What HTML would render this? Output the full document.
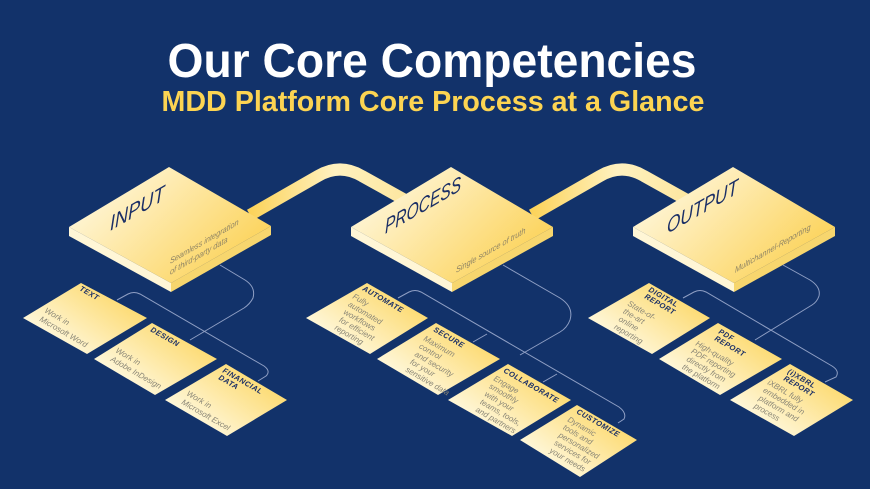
<!DOCTYPE html>
<html><head><meta charset="utf-8"><style>
html,body{margin:0;padding:0;background:#12326a;}
svg{display:block;}
.big{font-family:"Liberation Sans",sans-serif;font-size:21px;fill:#1b2f66;font-style:italic;}
.sub{font-family:"Liberation Sans",sans-serif;font-size:8.5px;fill:#8f8464;font-style:italic;}
.tt{font-family:"Liberation Sans",sans-serif;font-size:7.5px;font-weight:bold;font-style:italic;fill:#1b2f66;letter-spacing:0.5px;}
.bd{font-family:"Liberation Sans",sans-serif;font-size:8px;font-style:italic;fill:#8a8676;}
.cn{fill:none;stroke:#8f9fc4;stroke-width:1;}
</style></head><body>
<svg width="870" height="489" viewBox="0 0 870 489" xmlns="http://www.w3.org/2000/svg">
<defs>
<linearGradient id="gb" x1="0" y1="0" x2="1" y2="0.6">
<stop offset="0" stop-color="#fffdf2"/><stop offset="1" stop-color="#fcd35a"/></linearGradient>
<linearGradient id="gs" x1="0" y1="1" x2="1" y2="0.2">
<stop offset="0.1" stop-color="#fffdf0"/><stop offset="1" stop-color="#fcd55e"/></linearGradient>
<linearGradient id="gr" x1="0" y1="0" x2="1" y2="0">
<stop offset="0" stop-color="#fcd35a"/><stop offset="0.55" stop-color="#fff1c0"/><stop offset="1" stop-color="#fde7a0"/></linearGradient>
</defs>
<rect width="870" height="489" fill="#12326a"/>
<text x="432" y="77" text-anchor="middle" font-family="Liberation Sans,sans-serif" font-weight="bold" font-size="48" fill="#fff" textLength="529" lengthAdjust="spacingAndGlyphs">Our Core Competencies</text>
<text x="433" y="111" text-anchor="middle" font-family="Liberation Sans,sans-serif" font-weight="bold" font-size="29" fill="#fcd452" textLength="543" lengthAdjust="spacingAndGlyphs">MDD Platform Core Process at a Glance</text>

<path d="M250,215 L318,176 Q340,163 362,176 L405,200" fill="none" stroke="url(#gr)" stroke-width="12"/>
<path d="M532,215 L600,176 Q622,163 644,176 L687,200" fill="none" stroke="url(#gr)" stroke-width="12"/>

<path class="cn" d="M220,265 L245,280 Q256,287 253,298 Q250,304 244,308 L190,340"/>
<path class="cn" d="M117,300 L128,294 Q134,291 140,294 L264,366 Q271,371 266,376 L258,381"/>
<path class="cn" d="M503,265 L560,298 Q574,307 570,320 Q567,328 560,332 L520,355"/>
<path class="cn" d="M398,298 L409,292 Q415,289 421,292 L619,407 Q627,413 624,419 L618,423"/>
<path class="cn" d="M473,342 L487,334"/><path class="cn" d="M543,382 L557,374"/>
<path class="cn" d="M783,265 L810,280 Q821,287 819,296 Q817,302 812,305 L755,340"/>
<path class="cn" d="M683,298 L694,292 Q700,289 706,292 L832,366 Q840,371 836,377 L825,382"/>

<polygon points="69,227 171,283 171,292 69,236" fill="#fff6d6"/>
<polygon points="171,283 271,226 271,235 171,292" fill="#f7d66e"/>
<polygon points="169,167 271,226 171,283 69,227" fill="url(#gb)"/>
<polygon points="351,227 452,283 452,292 351,236" fill="#fff6d6"/>
<polygon points="452,283 553,227 553,236 452,292" fill="#f7d66e"/>
<polygon points="451,167 553,227 452,283 351,227" fill="url(#gb)"/>
<polygon points="633,227 734,283 734,292 633,236" fill="#fff6d6"/>
<polygon points="734,283 835,227 835,236 734,292" fill="#f7d66e"/>
<polygon points="733,167 835,227 734,283 633,227" fill="url(#gb)"/>

<text class="big" transform="matrix(0.866,-0.5,0,1,110,231)" textLength="63" lengthAdjust="spacingAndGlyphs">INPUT</text>
<text class="big" transform="matrix(0.866,-0.5,0,1,385,234)" textLength="88" lengthAdjust="spacingAndGlyphs">PROCESS</text>
<text class="big" transform="matrix(0.866,-0.5,0,1,667,234)" textLength="82" lengthAdjust="spacingAndGlyphs">OUTPUT</text>
<text class="sub" transform="matrix(0.866,-0.5,0,1,170,264)">Seamless integration<tspan x="0" dy="11">of third-party data</tspan></text>
<text class="sub" transform="matrix(0.866,-0.5,0,1,456,273)">Single source of truth</text>
<text class="sub" transform="matrix(0.866,-0.5,0,1,735,273)">Multichannel-Reporting</text>

<g fill="url(#gs)">
<polygon points="81,283 147,318 87,354 23,318"/>
<polygon points="152,323 217,359 155,395 94,359"/>
<polygon points="226,364 287,400 227,436 165,400"/>
<polygon points="367,283 428,318 370,354 306,318"/>
<polygon points="436,323 500,359 438,395 377,359"/>
<polygon points="508,364 571,400 512,436 448,400"/>
<polygon points="577,405 637,440 580,477 520,440"/>
<polygon points="649,283 710,318 652,354 588,318"/>
<polygon points="718,323 782,359 720,395 659,359"/>
<polygon points="790,364 853,400 794,436 730,400"/>
</g>

<text class="tt" transform="translate(79,290) rotate(30)">TEXT</text>
<text class="bd" transform="translate(44,312) rotate(30)">Work in<tspan x="0" dy="10">Microsoft Word</tspan></text>
<text class="tt" transform="translate(150,331) rotate(30)">DESIGN</text>
<text class="bd" transform="translate(115,352) rotate(30)">Work in<tspan x="0" dy="10">Adobe InDesign</tspan></text>
<text class="tt" transform="translate(222,372) rotate(30)">FINANCIAL<tspan x="0" dy="8">DATA</tspan></text>
<text class="bd" transform="translate(186,395) rotate(30)">Work in<tspan x="0" dy="10">Microsoft Excel</tspan></text>

<text class="tt" transform="translate(362,290) rotate(30)">AUTOMATE</text>
<text class="bd" transform="translate(352,298) rotate(30)">Fully<tspan x="0" dy="9">automated</tspan><tspan x="0" dy="9">workflows</tspan><tspan x="0" dy="9">for efficient</tspan><tspan x="0" dy="9">reporting</tspan></text>
<text class="tt" transform="translate(433,331) rotate(30)">SECURE</text>
<text class="bd" transform="translate(423,340) rotate(30)">Maximum<tspan x="0" dy="9">control</tspan><tspan x="0" dy="9">and security</tspan><tspan x="0" dy="9">for your</tspan><tspan x="0" dy="9">sensitive data</tspan></text>
<text class="tt" transform="translate(503,372) rotate(30)">COLLABORATE</text>
<text class="bd" transform="translate(493,380) rotate(30)">Engage<tspan x="0" dy="9">smoothly</tspan><tspan x="0" dy="9">with your</tspan><tspan x="0" dy="9">teams, tools,</tspan><tspan x="0" dy="9">and partners</tspan></text>
<text class="tt" transform="translate(576,413) rotate(30)">CUSTOMIZE</text>
<text class="bd" transform="translate(567,421) rotate(30)">Dynamic<tspan x="0" dy="9">tools and</tspan><tspan x="0" dy="9">personalized</tspan><tspan x="0" dy="9">services for</tspan><tspan x="0" dy="9">your needs</tspan></text>

<text class="tt" transform="translate(648,291) rotate(30)">DIGITAL<tspan x="0" dy="8">REPORT</tspan></text>
<text class="bd" transform="translate(627,305) rotate(30)">State-of-<tspan x="0" dy="9">the-art</tspan><tspan x="0" dy="9">online</tspan><tspan x="0" dy="9">reporting</tspan></text>
<text class="tt" transform="translate(718,333) rotate(30)">PDF<tspan x="0" dy="8">REPORT</tspan></text>
<text class="bd" transform="translate(695,345) rotate(30)">High-quality<tspan x="0" dy="9">PDF reporting</tspan><tspan x="0" dy="9">directly from</tspan><tspan x="0" dy="9">the platform</tspan></text>
<text class="tt" transform="translate(787,373) rotate(30)">(i)XBRL<tspan x="0" dy="8">REPORT</tspan></text>
<text class="bd" transform="translate(767,384) rotate(30)">iXBRL fully<tspan x="0" dy="9">embedded in</tspan><tspan x="0" dy="9">platform and</tspan><tspan x="0" dy="9">process</tspan></text>
</svg>
</body></html>
